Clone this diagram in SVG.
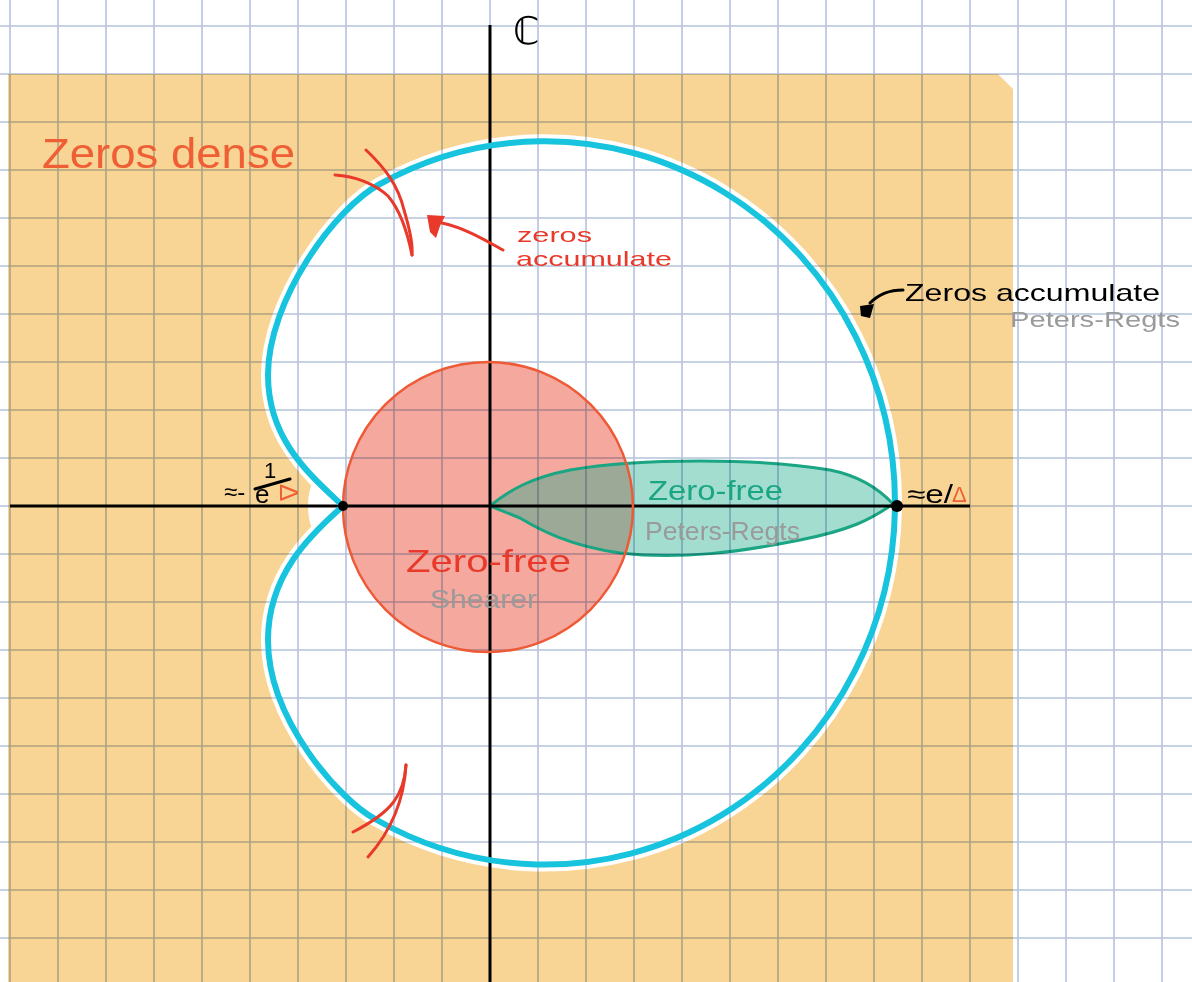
<svg xmlns="http://www.w3.org/2000/svg" width="1192" height="982" viewBox="0 0 1192 982">
<defs>
<style>
.t{font-family:"Liberation Sans","DejaVu Sans",sans-serif;}
.grid{fill:none;stroke:#b4c2dc;stroke-width:1.6;mix-blend-mode:multiply;}
.axis{stroke:#000;stroke-width:3;fill:none;}
.red{fill:none;stroke:#e8392a;stroke-width:3;stroke-linecap:round;stroke-linejoin:round;}
.gray{fill:#9a9a9a;}
</style>
</defs>
<rect width="1192" height="982" fill="#ffffff"/>
<g id="zeros-dense-region">
<path d="M8 74 H998 L1013 89 V982 H8 Z" fill="#f9d595"/>
</g>
<g id="zero-accumulation-interior">
<path d="M343 506 C310 475 268 440 268 375 C268 300 335 208 380 184 A350 362 0 0 1 895 503 A350 362 0 0 1 375 819 C340 800 268 720 268 640 C268 575 310 535 343 506 Z" fill="#ffffff" stroke="#ffffff" stroke-width="14" stroke-linejoin="round"/>
<ellipse cx="328" cy="506" rx="20" ry="38" fill="#ffffff"/>
</g>
<g id="shearer-disk">
<circle cx="488" cy="507" r="145" fill="#f5a89e"/>
</g>
<g id="peters-regts-leaf">
<path d="M490 506 C510 490 530 478 570 470 C640 458 760 458 830 470 C860 476 880 490 893 504 C870 520 850 530 800 540 C740 552 680 560 620 553 C570 546 540 530 520 518 C505 512 495 508 490 506 Z" fill="#16aa89" fill-opacity="0.4" stroke="#1aa583" stroke-width="3" stroke-linejoin="round"/>
</g>
<g id="grid">
<path class="grid" d="M10 0V982M58 0V982M106 0V982M154 0V982M202 0V982M250 0V982M298 0V982M346 0V982M394 0V982M442 0V982M490 0V982M538 0V982M586 0V982M634 0V982M682 0V982M730 0V982M778 0V982M826 0V982M874 0V982M922 0V982M970 0V982M1018 0V982M1066 0V982M1114 0V982M1162 0V982M0 26H1192M0 74H1192M0 122H1192M0 170H1192M0 218H1192M0 266H1192M0 314H1192M0 362H1192M0 410H1192M0 458H1192M0 506H1192M0 554H1192M0 602H1192M0 650H1192M0 698H1192M0 746H1192M0 794H1192M0 842H1192M0 890H1192M0 938H1192"/>
</g>
<g id="axes">
<path class="axis" d="M490 25 V982"/>
<path class="axis" d="M10 506 H970"/>
</g>
<g id="shearer-circle-outline">
<circle cx="488" cy="507" r="145" fill="none" stroke="#ee5a36" stroke-width="2.5"/>
</g>
<g id="cardioid-curve">
<path d="M343 506 C310 475 268 440 268 375 C268 300 335 208 380 184 A350 362 0 0 1 895 503 A350 362 0 0 1 375 819 C340 800 268 720 268 640 C268 575 310 535 343 506 Z" fill="none" stroke="#17c3dd" stroke-width="6" stroke-linejoin="miter"/>
<circle cx="343" cy="506" r="5" fill="#000"/>
<circle cx="897" cy="506" r="6" fill="#000"/>
</g>
<g id="connectors">
<path class="red" d="M366 150 C385 168 398 185 404 210 C410 230 413 245 412 255"/>
<path class="red" d="M335 175 C355 176 375 184 388 196 C400 210 408 235 412 255"/>
<path class="red" d="M406 765 C404 795 392 812 353 832"/>
<path class="red" d="M406 765 C404 800 392 830 368 857"/>
<path class="red" d="M503 250 C485 240 465 228 442 223"/>
<path d="M427 215 L445 216 L440 226 L436 238 L430 232 Z" fill="#e8392a"/>
<path d="M903 290 C890 290 880 293 870 303" fill="none" stroke="#000" stroke-width="3" stroke-linecap="round"/>
<path d="M874 304 L870 318 L861 316 L860 306 Z" fill="#000"/>
</g>
<g id="labels">
<text class="t" x="42" y="168" font-size="42" fill="#ef5f36" textLength="253" lengthAdjust="spacingAndGlyphs">Zeros dense</text>
<text class="t" x="513" y="44" font-size="38" fill="#000">ℂ</text>
<text class="t" x="517" y="242" font-size="21" fill="#e8392a" textLength="75" lengthAdjust="spacingAndGlyphs">zeros</text>
<text class="t" x="516" y="266" font-size="21" fill="#e8392a" textLength="156" lengthAdjust="spacingAndGlyphs">accumulate</text>
<text class="t" x="905" y="301" font-size="24" fill="#000" textLength="255" lengthAdjust="spacingAndGlyphs">Zeros accumulate</text>
<text class="t gray" x="1010" y="327" font-size="22" textLength="170" lengthAdjust="spacingAndGlyphs">Peters-Regts</text>
<text class="t" x="648" y="500" font-size="28" fill="#1aa583" textLength="135" lengthAdjust="spacingAndGlyphs">Zero-free</text>
<text class="t gray" x="645" y="540" font-size="26" textLength="155" lengthAdjust="spacingAndGlyphs">Peters-Regts</text>
<text class="t" x="406" y="572" font-size="32" fill="#e8392a" textLength="165" lengthAdjust="spacingAndGlyphs">Zero-free</text>
<text class="t gray" x="430" y="608" font-size="26" textLength="107" lengthAdjust="spacingAndGlyphs">Shearer</text>
<text class="t" x="224" y="500" font-size="24" fill="#000">≈-</text>
<text class="t" x="264" y="478" font-size="22" fill="#000">1</text>
<path d="M255 489 L290 479" stroke="#000" stroke-width="3" stroke-linecap="round"/>
<text class="t" x="255" y="503" font-size="26" fill="#000">e</text>
<text class="t" x="0" y="0" font-size="26" fill="#ef5f36" transform="translate(280 484) rotate(90)">Δ</text>
<text class="t" x="907" y="503" font-size="26" fill="#000" textLength="46" lengthAdjust="spacingAndGlyphs">≈e/</text>
<text class="t" x="952" y="502" font-size="22" fill="#ef5f36">Δ</text>
</g>
</svg>
